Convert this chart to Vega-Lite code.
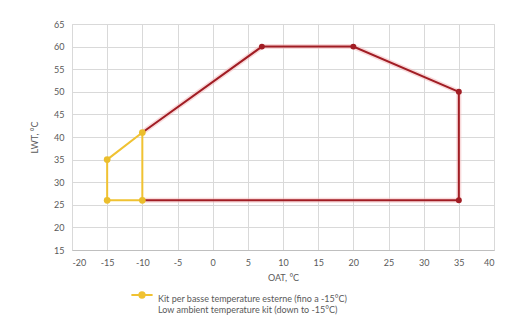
{
  "$schema": "https://vega.github.io/schema/vega-lite/v6.json",
  "width": 422,
  "height": 226,
  "autosize": "none",
  "padding": {"left": 72, "top": 24, "right": 16, "bottom": 83},
  "background": "white",
  "config": {
    "font": "Lato",
    "view": {"stroke": "#D9D9D9", "strokeWidth": 1},
    "axis": {
      "gridColor": "#D9D9D9",
      "gridWidth": 1,
      "labelColor": "#595959",
      "labelFontSize": 9,
      "titleColor": "#595959",
      "titleFontSize": 9,
      "titleFontWeight": "normal",
      "ticks": false,
      "domain": false
    }
  },
  "datasets": {
    "red": [
      {"oat": -10, "lwt": 41, "ord": 1},
      {"oat": 7, "lwt": 60, "ord": 2},
      {"oat": 20, "lwt": 60, "ord": 3},
      {"oat": 35, "lwt": 50, "ord": 4},
      {"oat": 35, "lwt": 26, "ord": 5},
      {"oat": -10, "lwt": 26, "ord": 6}
    ],
    "yellow": [
      {"oat": -10, "lwt": 41, "ord": 1, "series": "Kit per basse temperature esterne (fino a -15°C)"},
      {"oat": -15, "lwt": 35, "ord": 2, "series": "Kit per basse temperature esterne (fino a -15°C)"},
      {"oat": -15, "lwt": 26, "ord": 3, "series": "Kit per basse temperature esterne (fino a -15°C)"},
      {"oat": -10, "lwt": 26, "ord": 4, "series": "Kit per basse temperature esterne (fino a -15°C)"},
      {"oat": -10, "lwt": 41, "ord": 5, "series": "Kit per basse temperature esterne (fino a -15°C)"}
    ]
  },
  "encoding": {
    "x": {
      "field": "oat", "type": "quantitative",
      "scale": {"domain": [-20, 40], "nice": false},
      "axis": {"values": [-20,-15,-10,-5,0,5,10,15,20,25,30,35,40], "labelExpr": "'' + datum.value", "title": "OAT, °C", "labelPadding": 8, "titlePadding": 6, "domain": true, "domainColor": "#BFBFBF"}
    },
    "y": {
      "field": "lwt", "type": "quantitative",
      "scale": {"domain": [15, 65], "nice": false},
      "axis": {"values": [15,20,25,30,35,40,45,50,55,60,65], "title": "LWT, °C", "labelPadding": 8, "titlePadding": 14}
    },
    "order": {"field": "ord", "type": "quantitative"}
  },
  "layer": [
    {
      "data": {"name": "red"},
      "mark": {"type": "line", "color": "#F4B6B8", "strokeWidth": 5, "opacity": 0.5}
    },
    {
      "data": {"name": "red"},
      "mark": {"type": "line", "color": "#A11D24", "strokeWidth": 2}
    },
    {
      "data": {"name": "red"},
      "mark": {"type": "point", "filled": true, "color": "#A11D24", "size": 35, "opacity": 1},
      "transform": [{"filter": "datum.ord > 1 && datum.ord < 6"}]
    },
    {
      "data": {"name": "yellow"},
      "mark": {"type": "line", "strokeWidth": 2},
      "encoding": {
        "color": {
          "field": "series", "type": "nominal",
          "scale": {"range": ["#F0C232"]},
          "legend": {
            "title": null,
            "orient": "none",
            "legendX": 58,
            "legendY": 259,
            "labelFontSize": 9,
            "labelColor": "#595959",
            "labelLimit": 400,
            "labelBaseline": "top",
            "labelOffset": 4,
            "symbolType": "M-1,0H1M0.25,0A0.25,0.25 0 1,1 -0.25,0A0.25,0.25 0 1,1 0.25,0Z",
            "symbolSize": 450,
            "symbolStrokeWidth": 2,
            "symbolFillColor": "#F0C232",
            "symbolStrokeColor": "#F0C232",
            "labelExpr": "['Kit per basse temperature esterne (fino a -15°C)', 'Low ambient temperature kit (down to -15°C)']"
          }
        }
      }
    },
    {
      "data": {"name": "yellow"},
      "mark": {"type": "point", "filled": true, "color": "#EBBE2C", "size": 45, "opacity": 1},
      "transform": [{"filter": "datum.ord < 5"}]
    }
  ]
}
